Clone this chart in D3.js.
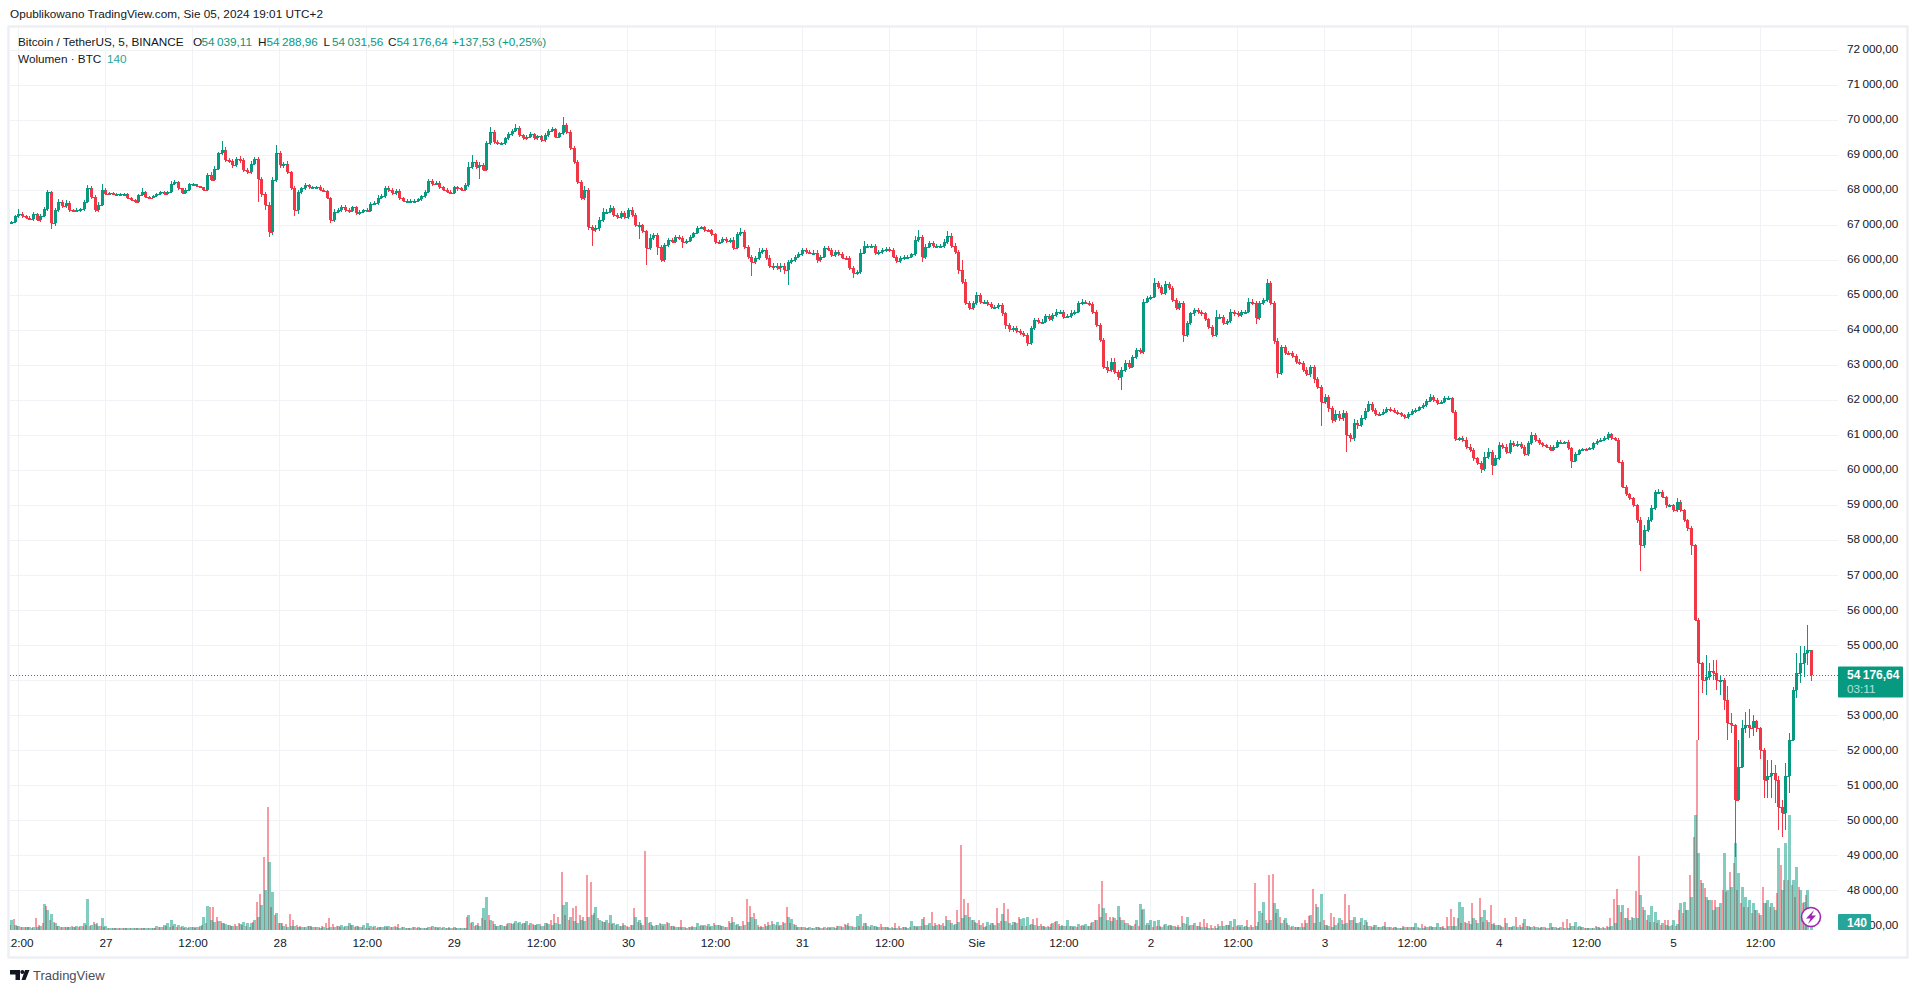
<!DOCTYPE html>
<html>
<head>
<meta charset="utf-8">
<title>BTCUSDT 5</title>
<script src="https://cdn.jsdelivr.net/npm/d3@7"></script>
<style>
  html, body { margin: 0; padding: 0; background: #fff; overflow: hidden; }
  text { font-family: "Liberation Sans", Arial, sans-serif; }
</style>
</head>
<body>
<div id="chart"></div>
<script>
'use strict';

// values, one bar per 30 minutes, first bar Jul 26 11:00 -----------------------------------
const firstClose = 67100

const closes = [
  // Jul 26 - Jul 28
  67110,67270,67340,67270,67230,67190,67340,67150,67270,67460,
  67960,67060,67440,67680,67550,67650,67440,67420,67440,67460,
  67680,68060,67820,67440,67580,68030,67910,67930,67900,67910,
  67910,67910,67790,67740,67680,67870,67960,67820,67800,67840,
  67910,67960,67900,67960,68200,68250,68060,67930,68030,68180,
  68180,68120,68090,68030,68440,68310,68630,69060,69170,68870,
  68850,68720,68910,68870,68580,68530,68770,68910,68340,67910,
  67580,66820,68300,69060,68720,68770,68530,68060,67440,67960,
  68060,68150,68090,68090,68110,68030,67990,
  // Jul 28 - Jul 30
  67780,67160,67400,67440,67540,67440,67420,67520,67350,67400,
  67440,67420,67630,67650,67800,67840,68060,68020,67920,68000,
  67780,67710,67710,67710,67710,67750,67840,67970,68280,68190,
  68220,68090,68030,67970,67940,68090,68060,68030,68160,68680,
  68820,68680,68730,68600,69350,69680,69400,69350,69350,69490,
  69610,69710,69800,69580,69490,69540,69610,69490,69560,69440,
  69580,69710,69750,69540,69630,69870,69680,69210,68820,68250,
  67780,68020,66970,66870,66920,67160,67400,67400,67490,67300,
  67250,67350,67250,67440,67300,67010,67010,
  // Jul 30 - Aug 1
  66840,66350,66650,66730,66400,66020,66440,66590,66540,66680,
  66650,66520,66560,66680,66780,66940,66960,66870,66860,66750,
  66520,66540,66610,66560,66590,66350,66750,66810,66400,66110,
  65970,66080,66250,66300,66080,65850,65850,65800,65850,65730,
  65970,66020,66110,66180,66300,66250,66230,66230,66020,66110,
  66350,66300,66160,66250,66180,66080,66060,65800,65660,65680,
  66230,66420,66420,66420,66210,66250,66300,66330,66300,66110,
  65990,66080,66110,66110,66180,66590,66680,66110,66400,66490,
  66420,66420,66420,66540,66710,66420,66250,65730,
  // Aug 1 - Aug 3
  65400,64780,64640,64780,65020,64830,64830,64760,64680,64680,
  64730,64490,64160,64040,64070,64000,63940,63880,63660,64070,
  64300,64260,64260,64420,64320,64450,64540,64540,64400,64420,
  64510,64540,64780,64830,64800,64760,64540,64160,63730,62970,
  62880,63110,62830,62690,62880,63070,62970,63240,63450,63400,
  64830,64920,64970,65370,65260,65070,65330,65210,64870,64640,
  64780,63880,64210,64490,64590,64540,64490,64320,64110,63880,
  64400,64400,64230,64280,64540,64490,64450,64540,64540,64830,
  64780,64350,64780,64870,65350,64780,63690,62780,
  // Aug 3 - Aug 5
  63520,63370,63350,63280,63110,63070,62890,62760,62950,62610,
  62380,61970,62110,61780,61450,61620,61500,61640,61020,60920,
  61370,61300,61500,61710,61900,61730,61620,61620,61690,61760,
  61730,61690,61640,61580,61520,61620,61700,61730,61810,61870,
  62000,62110,62020,61940,61960,62070,62070,61690,60900,60920,
  60880,60690,60590,60350,60230,60040,60400,60540,60160,60350,
  60730,60690,60540,60780,60730,60760,60690,60480,60780,61020,
  60880,60780,60730,60690,60590,60690,60830,60800,60820,60640,
  60290,60480,60590,60630,60610,60640,60780,60860,60880,60920,
  61050,60920,60880,60260,59540,59330,59210,59020,58590,57880,
  58310,58590,58930,59390,59390,
  // Aug 5
  59250,59020,59020,58880,59110,58880,58590,58370,57880,55740,
  54500,54030,54120,54270,54220,54030,54030,53460,52790,52740,
  50600,51550,52650,52740,52650,52840,52650,52030,51170,51270,
  51360,51170,50410,50220,51270,52310,53740,54220,54500,54790,
  54880,54176.64
]

// how far each wick reaches past the body, USD
const upperWicks = [
  20,40,120,50,40,30,60,20,60,60,
  60,40,60,80,60,70,50,40,60,50,
  60,100,60,50,80,170,40,40,30,30,
  30,30,20,20,20,30,120,30,20,20,
  30,30,20,30,60,60,30,20,40,40,
  30,20,20,20,60,80,60,50,240,60,
  60,60,60,70,60,70,80,50,60,50,
  60,80,100,235,80,60,70,40,60,60,
  50,60,40,30,30,40,30,
  30,50,60,50,60,50,50,50,50,50,
  40,50,50,50,60,60,60,60,50,50,
  40,40,40,40,40,40,40,50,60,60,
  50,40,40,40,40,50,50,40,50,150,
  190,60,80,60,60,140,60,50,50,50,
  50,50,100,50,40,50,50,40,40,40,
  50,50,60,40,50,240,60,60,60,50,
  60,100,60,60,100,80,100,80,100,60,
  60,60,60,60,80,50,90,
  30,40,100,60,60,50,60,50,50,60,
  60,40,50,60,50,40,40,40,40,50,
  30,50,60,50,60,80,60,130,60,50,
  50,60,100,50,50,80,80,70,90,80,
  60,60,60,60,60,50,60,60,60,60,
  80,70,60,60,60,60,50,60,50,50,
  100,140,50,60,50,50,50,50,60,50,
  40,40,40,40,50,100,180,60,80,70,
  60,60,60,70,130,80,90,50,
  300,70,60,80,80,60,50,50,50,50,
  60,50,50,60,70,60,60,60,40,60,
  60,50,60,60,50,60,70,50,50,60,
  70,50,60,70,50,60,50,50,50,50,
  150,120,100,60,80,100,100,50,40,60,
  60,60,60,120,50,50,80,60,60,60,
  70,60,60,50,60,60,60,50,50,50,
  200,70,60,60,80,60,60,60,50,100,
  70,60,60,50,130,80,60,100,
  60,60,60,60,60,70,70,70,60,80,
  70,60,90,60,70,100,80,100,60,60,
  100,80,80,80,90,60,60,60,60,60,
  50,50,50,50,40,50,50,50,50,50,
  50,80,60,50,50,70,70,40,50,50,
  60,70,60,50,50,50,130,120,60,100,
  100,70,80,90,60,80,60,50,70,80,
  50,50,40,30,40,40,50,40,40,50,
  40,60,40,30,30,40,40,50,50,70,
  60,40,40,40,40,50,40,40,40,100,
  150,100,100,60,100,
  60,40,40,40,100,40,40,40,40,40,
  40,40,620,235,335,380,100,40,380,290,
  40,760,240,380,450,190,50,30,40,480,
  380,240,100,190,380,190,80,570,480,190,
  716,10
]

const lowerWicks = [
  20,40,50,50,40,40,50,30,40,30,
  40,150,60,60,60,60,60,40,40,40,
  40,40,60,60,50,30,30,30,30,30,
  30,30,20,20,30,30,30,30,20,20,
  20,30,30,30,30,40,30,40,30,30,
  30,30,30,40,40,50,40,40,40,60,
  50,70,60,70,60,60,60,40,660,100,
  140,160,80,60,80,70,60,50,170,100,
  60,50,40,40,30,30,40,
  30,80,50,50,40,50,50,40,50,50,
  50,40,40,40,50,50,50,50,50,40,
  60,50,50,50,60,40,40,40,50,50,
  40,40,40,30,30,50,60,30,40,50,
  50,60,360,50,40,50,60,50,50,40,
  40,50,40,50,50,50,40,40,50,40,
  40,40,50,40,40,50,60,60,60,60,
  60,60,100,450,60,80,60,50,50,60,
  50,60,50,50,60,60,380,
  40,480,60,50,240,60,60,50,50,50,
  50,170,60,40,40,30,30,40,40,50,
  60,50,50,50,50,60,30,40,60,60,
  400,80,50,60,70,60,120,80,130,100,
  430,60,60,50,50,50,40,50,90,60,
  50,40,60,50,50,40,40,60,150,70,
  60,50,50,50,50,40,50,50,50,50,
  60,50,50,50,50,60,60,140,60,50,
  50,50,50,50,60,50,70,100,
  60,60,50,50,50,60,60,50,50,50,
  50,70,100,80,70,70,70,70,90,60,
  60,60,50,50,50,50,50,50,60,50,
  50,50,50,50,50,50,60,60,60,60,
  100,60,60,100,390,50,60,50,50,60,
  60,50,50,40,60,60,50,60,60,60,
  50,200,60,60,60,60,60,50,60,60,
  60,60,60,60,50,60,60,60,50,50,
  60,150,50,50,50,60,60,130,
  40,60,60,60,60,60,70,60,90,100,
  60,680,60,100,80,70,80,80,500,100,
  80,100,50,40,40,60,60,50,40,40,
  40,40,40,40,40,40,40,40,30,40,
  40,40,60,50,40,40,40,40,60,60,
  60,70,70,60,60,110,50,60,280,40,
  50,60,60,50,60,50,60,60,50,50,
  50,40,40,30,40,40,40,40,40,40,
  200,40,40,30,30,30,40,40,40,40,
  40,40,40,40,40,40,40,60,90,740,
  100,60,60,60,60,
  40,80,60,60,60,60,60,80,300,40,
  2190,380,430,95,200,290,430,290,480,240,
  1620,40,40,140,290,240,100,270,520,520,
  620,670,670,690,480,480,40,240,290,380,
  330,170
]

// volume of the rising and falling candles in each bar, BTC
const volumeUp = [
  300,150,130,100,90,80,90,100,120,780,
  600,470,200,120,100,80,90,80,110,120,
  200,930,150,180,130,350,120,70,60,60,
  70,60,70,60,50,60,60,60,60,70,
  120,100,150,200,300,180,150,120,100,90,
  80,100,120,380,720,300,250,280,200,180,
  150,120,130,180,250,200,220,300,400,750,
  1200,2050,1150,500,200,120,100,110,120,100,
  90,100,120,100,80,70,80,70,80,90,
  120,150,130,200,150,120,100,150,200,120,
  130,100,90,120,110,100,80,70,80,70,
  60,90,80,70,60,80,120,100,90,80,
  70,60,80,60,70,60,450,250,150,120,
  650,980,300,180,130,150,120,200,180,280,
  250,220,280,200,150,180,130,200,170,150,
  200,180,750,850,400,280,200,300,280,380,
  450,700,300,250,300,450,200,180,120,150,
  100,150,400,300,
  150,380,250,130,150,180,180,200,120,100,
  80,100,70,80,100,200,150,150,180,120,
  160,150,120,100,200,240,180,120,160,250,
  400,330,100,80,130,160,180,230,150,200,
  380,320,150,100,80,70,80,60,80,70,
  90,100,80,70,120,100,140,120,100,420,
  480,200,120,140,110,80,90,80,70,60,
  70,60,80,70,270,120,130,320,140,200,
  120,150,140,130,300,200,180,240,350,450,
  380,300,200,150,100,240,220,150,200,470,
  280,200,250,200,320,350,380,180,150,130,
  120,100,100,200,270,120,130,300,110,120,
  180,150,180,130,250,300,400,650,300,280,
  350,720,300,200,160,130,300,770,620,200,
  300,280,300,
  100,180,150,120,100,100,200,380,150,200,
  120,100,80,70,70,70,120,130,150,280,
  320,150,140,120,100,100,130,570,850,200,
  300,800,620,200,350,150,120,90,100,100,
  200,450,200,680,1070,150,130,100,150,350,
  180,200,300,400,200,350,300,120,100,150,
  100,120,100,100,80,70,60,80,80,90,
  200,60,70,80,120,80,200,90,70,110,
  130,120,850,700,200,180,350,200,400,600,
  250,180,140,150,100,200,100,120,90,100,
  320,120,100,90,70,80,60,200,90,70,
  80,60,70,110,250,120,80,70,60,70,
  90,60,70,100,120,200,750,750,350,300,
  350,350,1050,600,450,720,530,300,200,150,
  120,300,180,
  800,850,600,1000,3450,2300,1400,1000,900,600,
  700,800,2300,1200,1300,2600,1700,1300,1000,900,
  800,600,450,800,900,800,600,2450,1200,2600,
  3450,1500,1900,1200,850,1200,140
]

const volumeDown = [
  150,320,130,100,90,80,70,350,150,200,
  720,300,250,120,100,90,80,110,100,90,
  110,150,120,250,200,120,90,70,60,60,
  50,60,50,60,60,70,60,50,60,60,
  70,80,100,120,100,120,90,80,70,70,
  80,70,90,150,200,700,680,400,280,200,
  150,120,170,220,150,120,100,250,830,1070,
  2200,3680,700,450,200,200,180,480,300,150,
  120,100,120,110,90,80,120,200,350,180,
  130,100,90,120,160,100,110,90,70,70,
  80,70,80,100,90,90,130,180,100,70,
  60,80,60,70,60,70,90,80,70,60,
  70,80,70,60,70,60,380,200,120,200,
  350,300,450,280,120,150,130,180,200,220,
  200,180,200,160,180,140,170,130,220,300,
  480,400,1730,450,300,650,720,450,400,1650,
  1450,500,350,280,250,200,180,150,120,200,
  130,150,650,250,
  200,2370,200,150,150,200,120,250,120,110,
  100,300,90,80,120,100,120,110,120,100,
  220,140,120,90,280,380,160,130,260,930,
  720,520,150,130,180,250,260,150,120,230,
  680,200,180,100,90,80,70,70,100,80,
  70,70,60,80,110,120,180,220,130,100,
  120,120,200,100,120,90,180,80,80,100,
  220,110,90,100,80,110,90,130,400,140,
  550,200,180,200,430,300,150,600,2550,920,
  800,300,250,300,220,110,150,200,650,270,
  800,620,150,250,400,130,120,150,320,350,
  170,130,130,170,230,180,140,110,120,100,
  90,110,120,130,210,300,770,1470,500,400,
  400,300,400,300,200,130,180,120,600,150,
  140,100,130,
  120,150,130,150,120,150,420,180,120,150,
  130,230,320,200,150,130,180,270,150,140,
  100,120,80,100,300,150,1400,250,500,300,
  1650,1680,500,400,300,200,100,80,100,200,
  300,420,1230,780,250,300,150,500,400,200,
  300,1080,750,300,200,250,150,230,120,150,
  100,100,230,90,70,90,60,110,100,80,
  100,80,170,120,90,100,80,90,130,400,
  620,400,350,200,250,280,800,300,950,250,
  300,750,200,150,120,350,90,100,380,150,
  200,120,100,120,90,100,80,70,100,90,
  70,250,320,200,120,90,80,70,60,70,
  110,80,90,110,350,920,1220,550,350,650,
  400,1170,2220,680,300,250,250,200,150,300,
  300,150,120,
  600,500,600,1650,2800,5700,1500,1250,900,900,
  900,700,1200,1150,1750,2000,1200,800,700,700,
  500,600,500,1300,800,700,700,1100,1950,1500,
  1500,1350,1000,1300,800,1050,0
]

// axis ticks, one time label every 12 hours from Jul 26 12:00
const timeLabels = ['12:00','27','12:00','28','12:00','29','12:00','30','12:00','31','12:00','Sie',
                    '12:00','2','12:00','3','12:00','4','12:00','5','12:00']
const priceTicks = [72000,71000,70000,69000,68000,67000,66000,65000,64000,63000,62000,61000,60000,
                    59000,58000,57000,56000,55000,54000,53000,52000,51000,50000,49000,48000,47000]
// 54 000 sits behind the last price label in the picture, so no text for it
const hiddenPriceLabels = [54000]

// header texts
const publishedText = 'Opublikowano TradingView.com, Sie 05, 2024 19:01 UTC+2'
const symbolText = 'Bitcoin / TetherUS, 5, BINANCE'
const ohlcNames = ['O','H','L','C']
const ohlcValues = [54039.11,54288.96,54031.56,54176.64]
const changeText = '+137,53 (+0,25%)'
const volumeText = 'Wolumen · BTC'
const lastVolume = 140
const countdownText = '03:11'

// layout ---------------------
const pageWidth   = 1918
const pageHeight  = 993
const frameLeft   = 9
const frameTop    = 27
const frameRight  = 1908
const frameBottom = 958
const axisLeft    = 1838
const plotBottom  = 930
const font_size   = 11.75

const up_color    = '#089981'
const down_color  = '#f23645'
const grid_color  = '#f1f2f6'
const frame_color = '#eeeff4'
const text_color  = '#131722'
const vol_color   = '#26a69a'

const bar_ms  = 30 * 60 * 1000
const first_t = Date.UTC(2024, 6, 26, 11, 0)
const tick_t0 = Date.UTC(2024, 6, 26, 12, 0)
const tick_ms = 12 * 3600 * 1000

var fmt = d3.formatLocale({decimal: ',', thousands: '\u2009', grouping: [3], currency: ['', '']}).format(',.2f')

// scales ---------------------
var x = d3.scaleUtc()
    .domain([new Date(tick_t0), new Date(tick_t0 + 20 * tick_ms)])
    .range([18.4, 1760])

var y = d3.scaleLinear()
    .domain([48000, 72000])
    .range([890.9, 50.5])

var yVol = d3.scaleLinear()
    .domain([0, 30])
    .range([plotBottom, plotBottom - 1])

var tickDates = timeLabels.map(function(d, i) {return new Date(tick_t0 + i * tick_ms)})

var bars = closes.map(function(c, i) {
    var o = i === 0 ? firstClose : closes[i - 1]
    return {
        t: new Date(first_t + i * bar_ms),
        o: o,
        c: c,
        h: Math.max(o, c) + upperWicks[i],
        l: Math.min(o, c) - lowerWicks[i],
        vu: volumeUp[i],
        vd: volumeDown[i]
    }
})

// main SVG container ---------------------
var svg = d3.select('#chart').append('svg')
    .attr('width', pageWidth)
    .attr('height', pageHeight)
    .style('display', 'block')

svg.append('clipPath').attr('id', 'plot-clip').append('rect')
    .attr('x', frameLeft + 1).attr('y', frameTop)
    .attr('width', frameRight - frameLeft).attr('height', frameBottom - frameTop)

// FRAME
svg.append('rect')
    .attr('x', frameLeft - 0.5).attr('y', frameTop - 0.5)
    .attr('width', frameRight - frameLeft).attr('height', frameBottom - frameTop)
    .attr('fill', '#fff')
    .attr('stroke', frame_color)
    .attr('stroke-width', 2.5)

// GRID
var grid = svg.append('g').attr('shape-rendering', 'crispEdges')
grid.selectAll('line.h').data(priceTicks.slice(0, -1)).enter().append('line')
    .attr('class', 'h')
    .attr('x1', frameLeft + 1).attr('x2', axisLeft)
    .attr('y1', function(d) {return y(d)}).attr('y2', function(d) {return y(d)})
    .attr('stroke', grid_color)
grid.selectAll('line.v').data(tickDates).enter().append('line')
    .attr('class', 'v')
    .attr('x1', function(d) {return x(d)}).attr('x2', function(d) {return x(d)})
    .attr('y1', frameTop + 1).attr('y2', plotBottom)
    .attr('stroke', grid_color)

// VOLUME BARS
var plot = svg.append('g').attr('clip-path', 'url(#plot-clip)')
var vol = plot.append('g').attr('shape-rendering', 'crispEdges')
vol.selectAll('rect.vd').data(bars).enter().append('rect')
    .attr('class', 'vd')
    .attr('x', function(d) {return Math.round(x(d.t)) - 2})
    .attr('width', 2)
    .attr('y', function(d) {return yVol(d.vd)})
    .attr('height', function(d) {return plotBottom - yVol(d.vd)})
    .attr('fill', down_color)
    .attr('opacity', 0.5)
vol.selectAll('rect.vu').data(bars).enter().append('rect')
    .attr('class', 'vu')
    .attr('x', function(d) {return Math.round(x(d.t)) - 1})
    .attr('width', 3)
    .attr('y', function(d) {return yVol(d.vu)})
    .attr('height', function(d) {return plotBottom - yVol(d.vu)})
    .attr('fill', up_color)
    .attr('opacity', 0.5)

// LAST PRICE LINE
svg.append('line')
    .attr('x1', frameLeft + 1).attr('x2', axisLeft)
    .attr('y1', Math.round(y(closes[closes.length - 1])) + 0.5)
    .attr('y2', Math.round(y(closes[closes.length - 1])) + 0.5)
    .attr('stroke', up_color)
    .attr('stroke-dasharray', '1,2')

// CANDLES
var candles = plot.append('g').attr('shape-rendering', 'crispEdges')
var barColor = function(d) {return d.c >= d.o ? up_color : down_color}

candles.selectAll('rect.wick').data(bars).enter().append('rect')
    .attr('class', 'wick')
    .attr('x', function(d) {return Math.round(x(d.t))})
    .attr('width', 1)
    .attr('y', function(d) {return y(d.h)})
    .attr('height', function(d) {return y(d.l) - y(d.h)})
    .attr('fill', barColor)

candles.selectAll('rect.body').data(bars).enter().append('rect')
    .attr('class', 'body')
    .attr('x', function(d) {return Math.round(x(d.t)) - 1})
    .attr('width', 3)
    .attr('y', function(d) {return y(Math.max(d.o, d.c))})
    .attr('height', function(d) {return Math.max(2, y(Math.min(d.o, d.c)) - y(Math.max(d.o, d.c)))})
    .attr('fill', barColor)

// small step at the close so a quiet stretch still reads as one line
candles.selectAll('rect.step').data(bars.slice(0, -1)).enter().append('rect')
    .attr('class', 'step')
    .attr('x', function(d) {return Math.round(x(d.t))})
    .attr('width', 4)
    .attr('y', function(d) {return y(d.c)})
    .attr('height', 1)
    .attr('fill', barColor)

// PRICE AXIS
var yAxis = d3.axisRight(y)
    .tickValues(priceTicks.filter(function(d) {return hiddenPriceLabels.indexOf(d) < 0}))
    .tickFormat(fmt)
    .tickSize(0)
    .tickPadding(0)
var yAxisG = svg.append('g')
    .attr('transform', 'translate(' + 1847 + ',-1.5)')
    .call(yAxis)
yAxisG.select('.domain').remove()
yAxisG.selectAll('text')
    .attr('font-size', font_size)
    .attr('font-family', '"Liberation Sans", Arial, sans-serif')
    .attr('fill', text_color)

// TIME AXIS
svg.append('clipPath').attr('id', 'time-clip').append('rect')
    .attr('x', frameLeft + 1).attr('y', plotBottom)
    .attr('width', axisLeft - frameLeft).attr('height', frameBottom - plotBottom)

var xAxis = d3.axisBottom(x)
    .tickValues(tickDates)
    .tickFormat(function(d, i) {return timeLabels[i]})
    .tickSize(0)
    .tickPadding(0)
var xAxisG = svg.append('g')
    .attr('clip-path', 'url(#time-clip)')
    .append('g')
    .attr('transform', 'translate(0,' + 938.5 + ')')
    .call(xAxis)
xAxisG.select('.domain').remove()
xAxisG.selectAll('text')
    .attr('font-size', font_size)
    .attr('font-family', '"Liberation Sans", Arial, sans-serif')
    .attr('fill', text_color)

// HEADER TEXTS
svg.append('text').attr('x', 10).attr('y', 18)
    .attr('font-size', font_size).attr('fill', text_color)
    .text(publishedText)

svg.append('text').attr('x', 18).attr('y', 46)
    .attr('font-size', font_size).attr('fill', text_color)
    .text(symbolText)

var ohlcX = [193, 258, 323.5, 388]
svg.selectAll('text.ohlc-n').data(ohlcNames).enter().append('text')
    .attr('class', 'ohlc-n')
    .attr('x', function(d, i) {return ohlcX[i]}).attr('y', 46)
    .attr('font-size', font_size).attr('fill', text_color)
    .text(function(d) {return d})
svg.selectAll('text.ohlc-v').data(ohlcValues).enter().append('text')
    .attr('class', 'ohlc-v')
    .attr('x', function(d, i) {return ohlcX[i] + 8.5}).attr('y', 46)
    .attr('font-size', font_size).attr('fill', up_color)
    .text(function(d) {return fmt(d)})
svg.append('text').attr('x', 452).attr('y', 46)
    .attr('font-size', font_size).attr('fill', up_color)
    .text(changeText)

svg.append('text').attr('x', 18).attr('y', 63)
    .attr('font-size', font_size).attr('fill', text_color)
    .text(volumeText)
svg.append('text').attr('x', 107).attr('y', 63)
    .attr('font-size', font_size).attr('fill', vol_color)
    .text(lastVolume)

// LAST PRICE LABEL
var lastY = y(closes[closes.length - 1])
svg.append('rect')
    .attr('x', axisLeft).attr('y', lastY - 8)
    .attr('width', 65).attr('height', 31)
    .attr('rx', 1)
    .attr('fill', up_color)
svg.append('text')
    .attr('x', 1847).attr('y', lastY + 4)
    .attr('font-size', 12).attr('font-weight', 'bold').attr('fill', '#fff')
    .text(fmt(closes[closes.length - 1]))
svg.append('text')
    .attr('x', 1847).attr('y', lastY + 18)
    .attr('font-size', font_size).attr('fill', '#b5e0d9')
    .text(countdownText)

// LAST VOLUME LABEL
svg.append('rect')
    .attr('x', axisLeft).attr('y', 914)
    .attr('width', 33).attr('height', 16)
    .attr('rx', 1)
    .attr('fill', vol_color)
svg.append('text')
    .attr('x', 1847).attr('y', 927)
    .attr('font-size', 12).attr('font-weight', 'bold').attr('fill', '#fff')
    .text(lastVolume)

// LIGHTNING BADGE
svg.append('circle')
    .attr('cx', 1811).attr('cy', 917).attr('r', 9.5)
    .attr('fill', '#fff')
    .attr('stroke', '#9c27b0')
    .attr('stroke-width', 1.6)
svg.append('path')
    .attr('d', 'M1814 910 L1806 918.5 H1810.5 L1808 924 L1816 915.5 H1811.5 Z')
    .attr('fill', '#9c27b0')

// TRADINGVIEW LOGO
svg.append('path')
    .attr('d', 'M10 970 H20 V980 H15.5 V974.5 H10 Z M21.5 980 L25 970 H29.5 L25.5 980 Z')
    .attr('fill', '#131722')
svg.append('circle')
    .attr('cx', 22.3).attr('cy', 972).attr('r', 2)
    .attr('fill', '#131722')
svg.append('text').attr('x', 33).attr('y', 980)
    .attr('font-size', 13).attr('fill', '#4a4e59')
    .text('TradingView')
</script>
</body>
</html>
